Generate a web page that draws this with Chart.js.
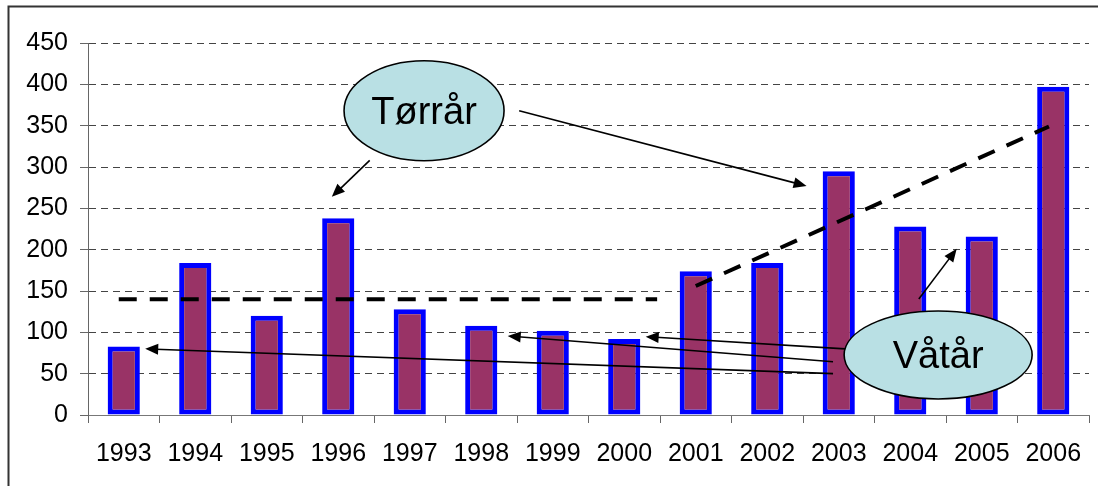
<!DOCTYPE html>
<html>
<head>
<meta charset="utf-8">
<script src="https://cdn.jsdelivr.net/npm/chart.js@4.4.0/dist/chart.umd.min.js"></script>
<style>
  html, body { margin: 0; padding: 0; background: #fff; }
  #wrap { width: 1098px; height: 486px; position: relative; }
</style>
</head>
<body>
<div id="wrap"><canvas id="chart" width="1098" height="486"></canvas></div>
<script>
const years = ['1993', '1994', '1995', '1996', '1997', '1998', '1999', '2000', '2001', '2002', '2003', '2004', '2005', '2006'];
const counts = [83, 184, 120, 238, 128, 108, 102, 92, 174, 184, 295, 228, 216, 397];

// dashed trend lines, x in category units (0..14)
const flatX = [0.43, 7.96];
const flatY = [140, 140];
const riseX = [8.5, 13.44];
const riseY = [156, 349];

// callouts: position in data units (x = category units, y = value)
const bubbles = [
    { text: 'Tørrår', x: 4.70, y: 368, rx: 80, ry: 50 },
    { text: 'Våtår', x: 11.89, y: 72.6, rx: 94, ry: 44 }
];
const arrows = [
    [3.94, 308, 3.41, 264],
    [6.03, 368, 10.05, 277],
    [10.42, 50, 0.80, 80],
    [10.42, 64.5, 5.87, 95.6],
    [10.59, 80, 7.80, 94.8],
    [11.62, 140.4, 12.15, 201]
];

const FONT = '"Liberation Sans", Arial, sans-serif';

const frame = {
    id: 'frame',
    beforeDraw(chart) {
        const ctx = chart.ctx;
        ctx.save();
        ctx.fillStyle = '#fff';
        ctx.fillRect(0, 0, chart.width, chart.height);
        ctx.strokeStyle = '#333';
        ctx.lineWidth = 2;
        ctx.strokeRect(8.5, 6.5, chart.width + 20, chart.height + 20);
        ctx.restore();
    }
};

function arrow(ctx, x1, y1, x2, y2) {
    const a = Math.atan2(y2 - y1, x2 - x1);
    const len = 13, half = 5.5;
    ctx.beginPath();
    ctx.moveTo(x1, y1);
    ctx.lineTo(x2 - Math.cos(a) * len * 0.8, y2 - Math.sin(a) * len * 0.8);
    ctx.stroke();
    ctx.beginPath();
    ctx.moveTo(x2, y2);
    ctx.lineTo(x2 - Math.cos(a) * len - Math.sin(a) * half, y2 - Math.sin(a) * len + Math.cos(a) * half);
    ctx.lineTo(x2 - Math.cos(a) * len + Math.sin(a) * half, y2 - Math.sin(a) * len - Math.cos(a) * half);
    ctx.closePath();
    ctx.fill();
}

const callouts = {
    id: 'callouts',
    afterDatasetsDraw(chart) {
        const ctx = chart.ctx, sx = chart.scales.x2, sy = chart.scales.y;
        ctx.save();
        ctx.strokeStyle = '#000';
        ctx.fillStyle = '#000';
        ctx.lineWidth = 1.6;
        arrows.forEach(function (a) {
            arrow(ctx, sx.getPixelForValue(a[0]), sy.getPixelForValue(a[1]),
                sx.getPixelForValue(a[2]), sy.getPixelForValue(a[3]));
        });
        bubbles.forEach(function (b) {
            const cx = sx.getPixelForValue(b.x), cy = sy.getPixelForValue(b.y);
            ctx.beginPath();
            ctx.ellipse(cx, cy, b.rx, b.ry, 0, 0, Math.PI * 2);
            ctx.fillStyle = '#B9E0E4';
            ctx.fill();
            ctx.lineWidth = 1.6;
            ctx.strokeStyle = '#000';
            ctx.stroke();
            ctx.fillStyle = '#000';
            ctx.font = '38px ' + FONT;
            ctx.textAlign = 'center';
            ctx.textBaseline = 'alphabetic';
            ctx.fillText(b.text, cx, cy + 13);
        });
        ctx.restore();
    }
};

new Chart(document.getElementById('chart'), {
    type: 'bar',
    data: {
        labels: years,
        datasets: [
            {
                type: 'bar',
                data: counts,
                backgroundColor: '#993366',
                borderColor: '#0000FF',
                borderWidth: 5,
                borderSkipped: false,
                grouped: false,
                categoryPercentage: 1,
                barPercentage: 0.45,
                order: 2
            },
            {
                type: 'line',
                xAxisID: 'x2',
                data: flatX.map(function (x, i) { return { x: x, y: flatY[i] }; }),
                borderColor: '#000',
                borderWidth: 4,
                borderDash: [18, 13],
                pointRadius: 0,
                fill: false,
                order: 1
            },
            {
                type: 'line',
                xAxisID: 'x2',
                data: riseX.map(function (x, i) { return { x: x, y: riseY[i] }; }),
                borderColor: '#000',
                borderWidth: 4,
                borderDash: [18, 13],
                pointRadius: 0,
                fill: false,
                order: 1
            }
        ]
    },
    options: {
        responsive: false,
        animation: false,
        layout: { padding: { top: 43, right: 9, bottom: 0, left: 0 } },
        plugins: { legend: { display: false }, tooltip: { enabled: false } },
        scales: {
            x: {
                type: 'category',
                offset: true,
                grid: { drawOnChartArea: false, tickLength: 8, tickColor: '#666', offset: true },
                border: { color: '#777', width: 1 },
                ticks: { color: '#000', font: { family: FONT, size: 25 }, padding: 16, maxRotation: 0, autoSkip: false },
                afterFit: function (s) { s.height = 71; }
            },
            x2: { type: 'linear', min: 0, max: 14, offset: false, display: false },
            y: {
                min: 0,
                max: 450,
                ticks: { stepSize: 50, color: '#000', font: { family: FONT, size: 25 }, padding: 12 },
                grid: { color: '#444', lineWidth: 1, tickLength: 8, tickColor: '#666', tickBorderDash: [] },
                border: { color: '#666', width: 1, dash: [7, 5] },
                afterFit: function (s) { s.width = 88; }
            }
        }
    },
    plugins: [frame, callouts]
});
</script>
</body>
</html>
